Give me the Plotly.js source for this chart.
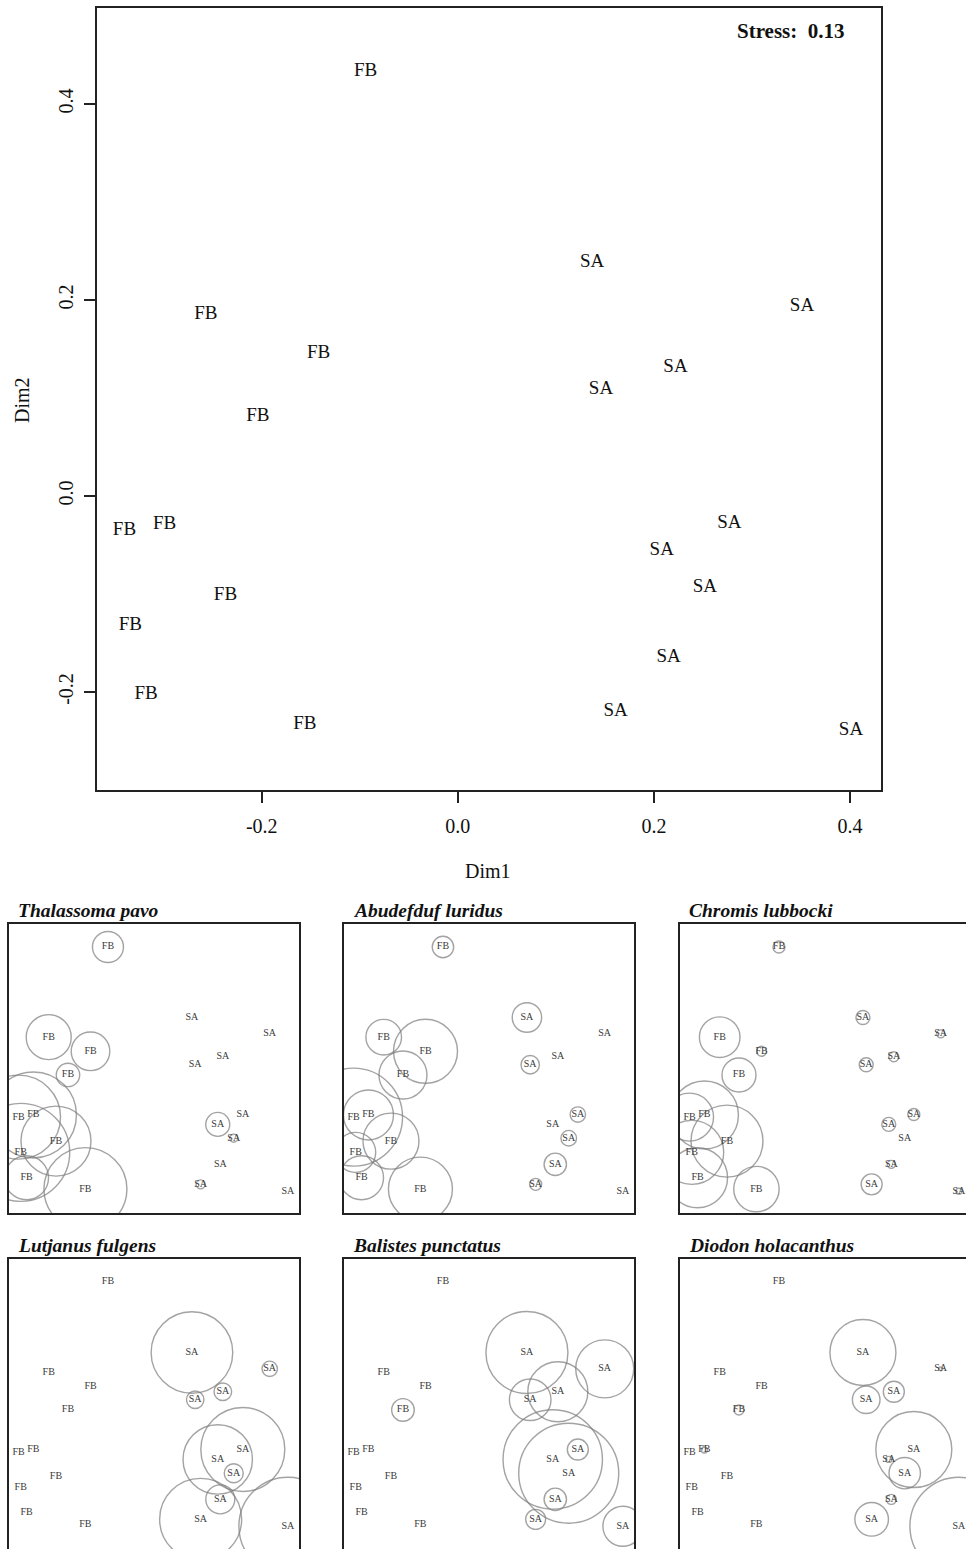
<!DOCTYPE html>
<html>
<head>
<meta charset="utf-8">
<script src="https://cdn.plot.ly/plotly-3.0.1.min.js"></script>
<style>html,body{margin:0;padding:0;background:#fff;}#chart{width:966px;height:1549px;}</style>
</head>
<body>
<div id="chart"></div>
<script>
// ---- data: nMDS site scores ----
const siteGroup = ['FB','SA','SA','FB','FB','SA','SA','FB','SA','FB','FB','SA','SA','FB','FB','SA','FB','SA','FB','SA'];
const dim1 = [-0.094, 0.137, 0.351, -0.257, -0.142, 0.222, 0.146, -0.204, 0.277, -0.340, -0.299, 0.208, 0.252, -0.237, -0.334, 0.215, -0.318, 0.161, -0.156, 0.401];
const dim2 = [0.433, 0.239, 0.194, 0.185, 0.146, 0.131, 0.109, 0.081, -0.028, -0.035, -0.029, -0.055, -0.093, -0.101, -0.132, -0.165, -0.202, -0.220, -0.233, -0.239];
const stressValue = '0.13';
const tickValues = [-0.2, 0.0, 0.2, 0.4];
const tickLabels = ['-0.2', '0.0', '0.2', '0.4'];

// ---- relative abundance of each species at each site (bubble scale) ----
const speciesNames = ['Thalassoma pavo', 'Abudefduf luridus', 'Chromis lubbocki', 'Lutjanus fulgens', 'Balistes punctatus', 'Diodon holacanthus'];
const thalassomaPavo    = [1.55, 0, 0, 2.25, 1.93, 0, 0, 1.17, 0, 4.2, 4.3, 1.2, 0.4, 3.5, 4.9, 0, 2.2, 0.45, 4.15, 0];
const abudefdufLuridus  = [1.07, 1.47, 0, 1.78, 3.2, 0, 0.92, 2.4, 0.77, 4.9, 2.5, 0, 0.78, 2.8, 2.0, 1.12, 2.2, 0.6, 3.2, 0];
const chromisLubbocki   = [0.6, 0.7, 0.4, 2.03, 0.5, 0.5, 0.7, 1.7, 0.6, 2.4, 3.4, 0.7, 0, 3.6, 3.2, 0.4, 3.0, 1.05, 2.27, 0.3];
const lutjanusFulgens   = [0, 4.08, 0.77, 0, 0, 0.88, 0.87, 0, 4.2, 0, 0, 3.47, 0.95, 0, 0, 1.45, 0, 4.1, 0, 4.9];
const balistesPunctatus = [0, 4.1, 2.9, 0, 0, 3.0, 2.08, 1.13, 1.05, 0, 0, 4.97, 5.0, 0, 0, 1.12, 0, 1.0, 0, 2.0];
const diodonHolacanthus = [0, 3.3, 0.2, 0, 0, 1.05, 1.38, 0.5, 3.8, 0, 0.3, 0.3, 1.57, 0, 0, 0.5, 0, 1.68, 0, 4.9];
const speciesValues = [thalassomaPavo, abudefdufLuridus, chromisLubbocki, lutjanusFulgens, balistesPunctatus, diodonHolacanthus];

// ---- layout helpers ----
const W = 966, H = 1549;
const SERIF = 'Liberation Serif, Times New Roman, serif';
const dx = (a, b) => [a / W, Math.min(1, b / W)];
const dy = (top, bottom) => [Math.max(0, 1 - bottom / H), 1 - top / H];
const PX_PER_UNIT = 10;   // bubble radius in px per abundance unit

const panelX = [[8, 300], [343, 635], [679, 971]];
const panelY = [[923, 1214], [1258, 1549]];
const panelScale = 363.5; // px per NMDS unit in the small panels
const panelX0 = -0.369, panelYtop = 0.499;

const traces = [];
traces.push({
  type: 'scatter', mode: 'text', x: dim1, y: dim2, text: siteGroup,
  textposition: 'middle center',
  textfont: {family: SERIF, size: 19, color: '#111'},
  xaxis: 'x', yaxis: 'y', hoverinfo: 'text', showlegend: false, cliponaxis: false
});

const layout = {
  width: W, height: H,
  margin: {l: 0, r: 0, t: 0, b: 0},
  paper_bgcolor: '#fff', plot_bgcolor: '#fff',
  showlegend: false,
  font: {family: SERIF, color: '#111'},
  xaxis: {
    domain: dx(97, 881), range: [-0.368, 0.4316], anchor: 'y',
    tickmode: 'array', tickvals: tickValues, ticktext: tickLabels,
    ticks: 'outside', ticklen: 11, tickwidth: 1.6, tickcolor: '#222',
    showline: true, mirror: true, linecolor: '#222', linewidth: 2,
    showgrid: false, zeroline: false, ticklabelstandoff: 6,
    tickfont: {family: SERIF, size: 20, color: '#111'}, fixedrange: true
  },
  yaxis: {
    domain: dy(8, 790), range: [-0.300, 0.498], anchor: 'x',
    tickmode: 'array', tickvals: tickValues, ticktext: tickLabels, tickangle: -90,
    ticks: 'outside', ticklen: 11, tickwidth: 1.6, tickcolor: '#222',
    showline: true, mirror: true, linecolor: '#222', linewidth: 2,
    showgrid: false, zeroline: false, ticklabelstandoff: 3,
    tickfont: {family: SERIF, size: 20, color: '#111'}, fixedrange: true
  },
  shapes: [],
  annotations: [
    {text: 'Stress:\u00a0 ' + stressValue, xref: 'paper', yref: 'paper', x: 791 / W, y: 1 - 31 / H,
     xanchor: 'center', yanchor: 'middle', showarrow: false,
     font: {family: SERIF, size: 21, weight: 'bold', color: '#111'}},
    {text: 'Dim1', xref: 'paper', yref: 'paper', x: 488 / W, y: 1 - 871 / H,
     xanchor: 'center', yanchor: 'middle', showarrow: false,
     font: {family: SERIF, size: 20, color: '#111'}},
    {text: 'Dim2', xref: 'paper', yref: 'paper', x: 22 / W, y: 1 - 400 / H, textangle: -90,
     xanchor: 'center', yanchor: 'middle', showarrow: false,
     font: {family: SERIF, size: 20, color: '#111'}}
  ]
};

speciesNames.forEach((name, i) => {
  const n = i + 2;
  const col = i % 3, row = Math.floor(i / 3);
  const [xl, xr] = panelX[col];
  const [yt, yb] = panelY[row];
  const xrClamped = Math.min(xr, W);
  const ybClamped = Math.min(yb, H);
  const xRange = [panelX0, panelX0 + (xrClamped - xl) / panelScale];
  const yRange = [panelYtop - (ybClamped - yt) / panelScale, panelYtop];
  layout['xaxis' + n] = {
    domain: dx(xl, xrClamped), range: xRange, anchor: 'y' + n,
    showline: false, ticks: '', showticklabels: false, showgrid: false, zeroline: false, fixedrange: true
  };
  layout['yaxis' + n] = {
    domain: dy(yt, ybClamped), range: yRange, anchor: 'x' + n,
    showline: false, ticks: '', showticklabels: false, showgrid: false, zeroline: false, fixedrange: true
  };
  const fullW = (xr - xl) / (xrClamped - xl);
  const fullH = (yb - yt) / (ybClamped - yt);
  layout.shapes.push({
    type: 'rect', xref: 'x' + n + ' domain', yref: 'y' + n + ' domain',
    x0: 0, x1: fullW, y0: 1 - fullH - (row === 1 ? 0.01 : 0), y1: 1,
    line: {color: '#222', width: 2}, fillcolor: 'rgba(0,0,0,0)', layer: 'above'
  });
  layout.annotations.push({
    text: name, xref: 'x' + n + ' domain', yref: 'y' + n + ' domain',
    x: 0, y: 1, xshift: 8, yshift: 0, xanchor: 'left', yanchor: 'bottom', showarrow: false,
    font: {family: SERIF, size: 19.5, weight: 'bold', style: 'italic', color: '#111'}
  });
  const vals = speciesValues[i];
  traces.push({
    type: 'scatter', mode: 'markers+text', x: dim1, y: dim2, text: siteGroup,
    textposition: 'middle center',
    textfont: {family: SERIF, size: 10, color: '#3a3a3a'},
    marker: {
      symbol: 'circle', color: 'rgba(0,0,0,0)',
      size: vals.map(v => 2 * v * PX_PER_UNIT), sizemode: 'diameter',
      line: {color: '#7d7d7d', width: 1.4}
    },
    xaxis: 'x' + n, yaxis: 'y' + n, hoverinfo: 'text', showlegend: false, cliponaxis: true
  });
});

Plotly.newPlot('chart', traces, layout, {staticPlot: true, displayModeBar: false});
</script>
</body>
</html>
